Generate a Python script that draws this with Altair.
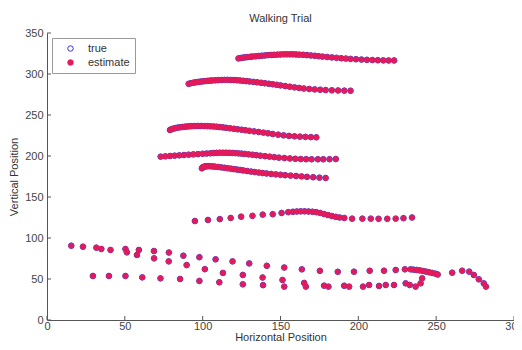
import altair as alt
import pandas as pd

# ---- data ----
t1_x = [123,124.5,126,127.5,129,130.5,132,134,136,138,140,142,144,146,148,150,152,154,156,158,160,162,164.5,167,169.5,172,174.5,177,180,183,186,189,192,195,198.5,202,205.5,209,212.5,216,219.5,223]
t1_y = [319,319.5,320,320.3,320.6,321,321.3,321.6,322,322.3,322.6,323,323.2,323.4,323.6,323.8,324,324,324,324,323.8,323.6,323.4,323,322.6,322.2,321.7,321.2,320.7,320.2,319.7,319.2,318.8,318.4,318,317.6,317.3,317,316.8,316.6,316.5,316.5]

t2_x = [91,92.5,94,95.5,97,98.5,100,101.5,103,104.5,106,108,110,112,114,116,118,120,122,124,126,128,130,132.5,135,137.5,140,142.5,145,147.5,150,153,156,159,162,165,168.5,172,175.5,179,183,187,191,195]
t2_y = [288,288.8,289.4,289.9,290.3,290.7,291,291.3,291.6,291.9,292.1,292.3,292.5,292.7,292.8,292.8,292.7,292.6,292.4,292.1,291.7,291.3,290.9,290.4,289.9,289.3,288.7,288.1,287.5,286.8,286.1,285.3,284.5,283.7,283,282.3,281.7,281.2,280.8,280.4,280.1,279.9,279.7,279.6]

t3_x = [79,80,81,82.5,84,85.5,87,88.5,90,91.5,93,95,97,99,101,103,105,107,109,111,113,115,117.5,120,122.5,125,127.5,130,133,136,139,142,145,148.5,152,155.5,159,162.5,166,169.5,173]
t3_y = [231.7,232.6,233.3,234,234.6,235,235.4,235.7,236,236.2,236.4,236.5,236.6,236.6,236.5,236.4,236.2,236,235.7,235.3,234.9,234.4,233.8,233.2,232.6,232,231.4,230.7,230,229.3,228.5,227.7,226.8,226,225.2,224.5,224,223.6,223.3,223,222.8]

t4_x = [73,76,79,82,85,88,91,94,97,100,102.5,105,107,109,111,113,115,117,119,121,123,125,127,129.5,132,134.5,137,140,143,146,149,152.5,156,159.5,163,166.5,170,174,177.5,181.5,185.5]
t4_y = [199.2,199.6,200,200.4,200.8,201.2,201.6,202,202.3,202.7,203,203.3,203.6,203.8,204,204,204,203.9,203.7,203.5,203.2,202.9,202.5,202,201.5,201,200.4,199.8,199.2,198.6,198,197.5,197,196.6,196.3,196.1,196,196,196,196.1,196.3]

t5_x = [99.5,100,100.5,101.5,102.5,103.5,105,106.5,108,110,112,114,116,118,120,122,124,126,128.5,131,133.5,136,138.5,141,144,147,150,153,156.5,160,163.5,167,171,175,179]
t5_y = [185,186,186.7,187.2,187.5,187.6,187.5,187.3,187,186.6,186.1,185.6,185.1,184.6,184,183.5,183,182.4,181.7,181,180.4,179.8,179.2,178.7,178.1,177.6,177.1,176.6,176.1,175.6,175.1,174.6,174.1,173.6,173.2]

t6_x = [95,103.4,111,118,124.7,132,138.6,145,150.7,155,158,160.5,163,165.5,168,170.5,173,175.5,178,180.5,183,185.5,188,191,196,202.6,208,213,218.6,224,229,234.5]
t6_y = [120.7,122,123,124.4,126,127,128.5,129,130.5,131.5,132,132.3,132.5,132.5,132.3,132,131.5,130.5,129.2,128,126.8,125.8,125,124.4,123.6,123.6,123.6,123.4,123.4,123.6,124.2,125]

rowA_x = [15.6,23.1,31.7,34.9,40.8,50.4,59,68.7,78.3,87.6,97.9,108.3,119.2,129.9,141.2,152.4,163.7,175.3,186.8,197.2,207.3,216.5,224,229.9,233.6,235.5,237.5,239.5,241.5,243.5,245.5,247.5,249.5,251,260.3,266.7,271.2,274.2,277.4,280.6,282]
rowA_y = [90.6,89.4,88.2,86.6,85.4,86.6,85.4,84.1,82.3,78.4,76.6,74,71.5,69,66.1,64,61.8,60,58.8,58.9,60,60.1,61,61.8,61.8,61.4,61,60.5,59.8,59,58.2,57.4,56.5,55.5,57.7,60.1,59,54.9,49.6,44.7,40.7]

rowB_x = [51.3,57.8,68.8,78.2,89.7,101.4,113,125.8,138.5,151.3,165.2,178,190.9,203,213.3,222.9,230.4]
rowB_y = [82.5,79.3,75.2,71.5,67,62,57.4,54.9,51.8,48.8,45.2,41.9,41.8,40.7,41.5,42.7,44.7]

rowC_x = [29.5,39.8,50.4,61.2,72.9,85.5,97.9,110.7,125.8,138.8,152.4,166.3,180.8,194.1,206.9,217.6,233,236.8,240,241]
rowC_y = [53.7,53.7,53.7,52,50.8,50,47.6,46,43.5,42.5,40.7,40.7,40.7,40.7,42.7,42.7,42.7,40.7,44.7,50.8]

tracks = [(t1_x, t1_y), (t2_x, t2_y), (t3_x, t3_y), (t4_x, t4_y), (t5_x, t5_y),
          (t6_x, t6_y), (rowA_x, rowA_y), (rowB_x, rowB_y), (rowC_x, rowC_y)]

series_names = ["true", "estimate"]
x_ticks = [0, 50, 100, 150, 200, 250, 300]
y_ticks = [0, 50, 100, 150, 200, 250, 300, 350]

rows = []
for s in series_names:
    for xs, ys in tracks:
        for a, b in zip(xs, ys):
            rows.append({"x": a, "y": b, "series": s})
df = pd.DataFrame(rows)

xscale = alt.Scale(domain=[0, 300], nice=False, zero=False)
yscale = alt.Scale(domain=[0, 350], nice=False, zero=False)
FONT = "Liberation Sans"
RED = "#e3195a"
BLUE = "#3434d4"

fill_scale = alt.Scale(domain=series_names, range=["transparent", RED])
stroke_scale = alt.Scale(domain=series_names, range=[BLUE, RED])

xenc = alt.X("x:Q", scale=xscale,
             axis=alt.Axis(values=x_ticks, title="Horizontal Position", ticks=False,
                           labelPadding=0, titleY=20, titleBaseline="alphabetic",
                           labelFlush=False))
yenc = alt.Y("y:Q", scale=yscale,
             axis=alt.Axis(values=y_ticks, title="Vertical Position", ticks=False,
                           labelPadding=4, titlePadding=5, labelFlush=False))

base = alt.Chart(df).encode(
    x=xenc, y=yenc,
    fill=alt.Fill("series:N", sort=series_names, scale=fill_scale, title=None),
    stroke=alt.Stroke("series:N", sort=series_names, scale=stroke_scale, title=None),
)

true_pts = base.transform_filter(alt.datum.series == "true").mark_point(
    opacity=1, strokeWidth=1, shape="circle", size=32)
est_pts = base.transform_filter(alt.datum.series == "estimate").mark_point(
    opacity=1, strokeWidth=1, shape="circle", size=24)

xt = pd.DataFrame({"v": x_ticks})
yt = pd.DataFrame({"v": y_ticks})
xtick = alt.Chart(xt).mark_rule(color="#555", strokeWidth=1).encode(
    x=alt.X("v:Q", scale=xscale), y=alt.value(287), y2=alt.value(283))
ytick = alt.Chart(yt).mark_rule(color="#555", strokeWidth=1).encode(
    y=alt.Y("v:Q", scale=yscale), x=alt.value(0), x2=alt.value(4))

chart = alt.layer(xtick, ytick, true_pts, est_pts).properties(
    width=467, height=287,
    title=alt.TitleParams("Walking Trial", fontSize=11, fontWeight="normal", color="#333",
                          font=FONT, offset=3, anchor="middle"),
    autosize=alt.AutoSizeParams(type="none"),
    padding={"left": 39, "top": 25, "right": 0, "bottom": 22},
).configure_view(stroke=None).configure_axis(
    grid=False, domainColor="#555", labelColor="#444", titleColor="#333",
    labelFont=FONT, titleFont=FONT, labelFontSize=11, titleFontSize=11,
    titleFontWeight="normal",
).configure_legend(
    orient="top-left", offset=5, strokeColor="#999",
    fillColor="white", padding=5, symbolOffset=8, labelOffset=12,
    rowPadding=2, symbolSize=30, symbolStrokeWidth=1, labelFont=FONT,
    labelFontSize=11, labelColor="#333", symbolType="circle",
)

chart.save("out.html", embed_options={"renderer": "svg", "actions": False})
